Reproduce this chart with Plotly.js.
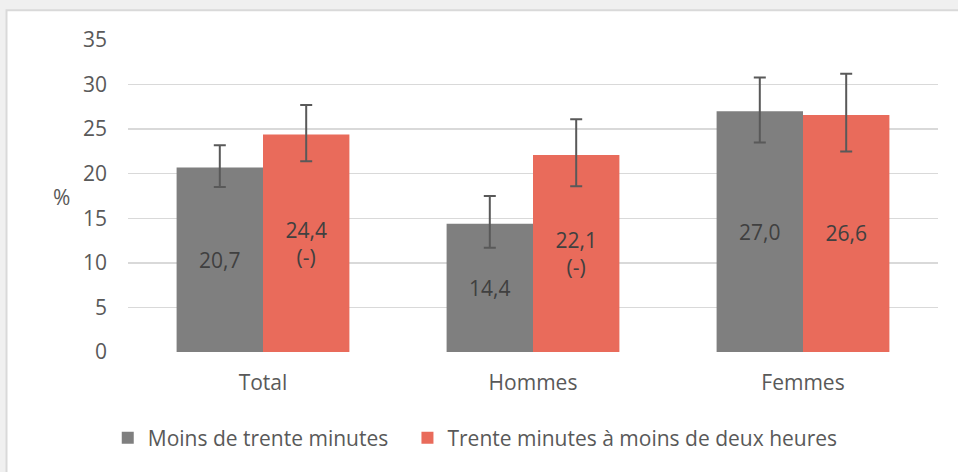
<!DOCTYPE html>
<html>
<head>
<meta charset="utf-8">
<script src="https://cdn.plot.ly/plotly-3.0.1.min.js"></script>
<style>
html,body{margin:0;padding:0;background:#f0f0f0;}
#chart{width:958px;height:472px;}
</style>
</head>
<body>
<div id="chart"></div>
<script>
const categories = ["Total", "Hommes", "Femmes"];
const seriesNames = ["Moins de trente minutes", "Trente minutes à moins de deux heures"];
const valuesShort = [20.7, 14.4, 27.0];
const valuesLong = [24.4, 22.1, 26.6];
const errPlusShort = [2.5, 3.1, 3.8];
const errMinusShort = [2.2, 2.7, 3.5];
const errPlusLong = [3.3, 4.0, 4.6];
const errMinusLong = [3.0, 3.5, 4.1];
const labelsShort = ["20,7", "14,4", "27,0"];
const labelsLong = ["24,4<br>(-)", "22,1<br>(-)", "26,6"];
const yTicks = [0, 5, 10, 15, 20, 25, 30, 35];

const FONT = "Open Sans, Noto Sans, sans-serif";
const FS = 21;
const errStyle = {color: "#595959", thickness: 2, width: 6};

const traces = [
  {
    type: "bar", name: seriesNames[0], x: categories, y: valuesShort,
    marker: {color: "#7f7f7f"}, legend: "legend",
    text: labelsShort, textposition: "inside", insidetextanchor: "middle",
    constraintext: "none", textangle: 0,
    textfont: {family: FONT, size: FS, color: "#404040"},
    error_y: Object.assign({type: "data", symmetric: false, array: errPlusShort, arrayminus: errMinusShort}, errStyle),
    hoverinfo: "skip"
  },
  {
    type: "bar", name: seriesNames[1], x: categories, y: valuesLong,
    marker: {color: "#e96b5b"}, legend: "legend2",
    text: labelsLong, textposition: "inside", insidetextanchor: "middle",
    constraintext: "none", textangle: 0,
    textfont: {family: FONT, size: FS, color: "#404040"},
    error_y: Object.assign({type: "data", symmetric: false, array: errPlusLong, arrayminus: errMinusLong}, errStyle),
    hoverinfo: "skip"
  }
];

const legendBase = {
  orientation: "h", xanchor: "left", y: -0.21, yanchor: "top",
  font: {family: FONT, size: FS, color: "#595959"},
  itemwidth: 30, bgcolor: "rgba(0,0,0,0)"
};

const layout = {
  width: 958, height: 472,
  margin: {l: 128, r: 20, t: 40, b: 120},
  paper_bgcolor: "#f0f0f0",
  plot_bgcolor: "rgba(0,0,0,0)",
  font: {family: FONT, color: "#595959", size: FS},
  barmode: "group",
  bargap: 0.36,
  bargroupgap: 0,
  showlegend: true,
  legend: Object.assign({x: -0.025}, legendBase),
  legend2: Object.assign({x: 0.345}, legendBase),
  xaxis: {
    type: "category", showgrid: false, zeroline: false, showline: false,
    ticks: "", tickfont: {family: FONT, size: FS, color: "#595959"},
    ticklabelstandoff: 16, fixedrange: true
  },
  yaxis: {
    range: [0, 35], tickvals: yTicks, ticktext: yTicks.map(String),
    showgrid: true, gridcolor: "#d9d9d9", gridwidth: 1.5,
    zeroline: false, showline: false, ticks: "",
    tickfont: {family: FONT, size: FS, color: "#595959"},
    ticklabelstandoff: 20, fixedrange: true
  },
  shapes: [
    {type: "rect", xref: "paper", yref: "paper", x0: -0.150, x1: 1.05, y0: -0.45, y1: 1.0955,
     fillcolor: "#ffffff", line: {color: "#d9d9d9", width: 2}, layer: "below"}
  ],
  annotations: [
    {text: "%", xref: "paper", yref: "paper", x: -0.0815, y: 0.497, showarrow: false,
     xanchor: "center", yanchor: "middle", font: {family: FONT, size: FS, color: "#595959"}}
  ]
};

Plotly.newPlot("chart", traces, layout, {staticPlot: true, displayModeBar: false});
</script>
</body>
</html>
